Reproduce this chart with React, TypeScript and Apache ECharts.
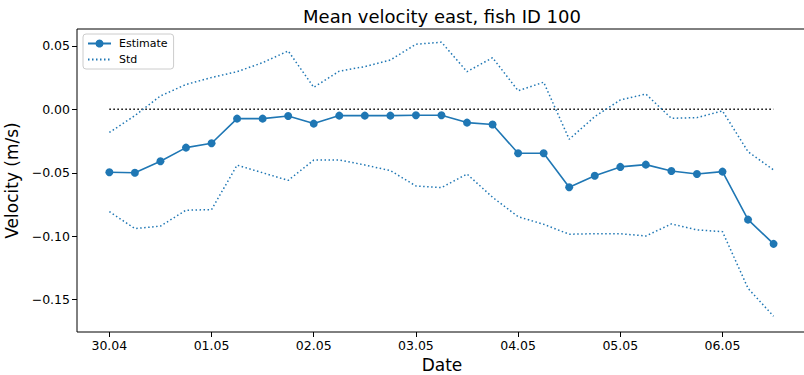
import React, { useEffect, useRef } from "react";
import * as echarts from "echarts";

// hours since 30.04 00:00, sampled every 6 h
const hours = [0, 6, 12, 18, 24, 30, 36, 42, 48, 54, 60, 66, 72, 78, 84, 90, 96, 102, 108, 114, 120, 126, 132, 138, 144, 150, 156];

const estimate = [-0.0496, -0.05, -0.041, -0.0302, -0.0268, -0.0074, -0.0074, -0.0053, -0.0113, -0.005, -0.005, -0.005, -0.0047, -0.0047, -0.0105, -0.012, -0.0347, -0.0347, -0.0614, -0.0523, -0.0454, -0.0436, -0.0486, -0.051, -0.0491, -0.0869, -0.106];

const stdUpper = [-0.0183, -0.005, 0.0105, 0.0195, 0.025, 0.0296, 0.0367, 0.0459, 0.0173, 0.03, 0.0336, 0.0388, 0.0512, 0.0528, 0.0296, 0.0406, 0.0146, 0.0213, -0.0236, -0.0058, 0.0073, 0.012, -0.0071, -0.0066, -0.0013, -0.0334, -0.0478];

const stdLower = [-0.0806, -0.094, -0.092, -0.0795, -0.079, -0.044, -0.05, -0.056, -0.04, -0.04, -0.0439, -0.0483, -0.0604, -0.0617, -0.051, -0.0693, -0.0846, -0.0906, -0.0984, -0.098, -0.098, -0.0998, -0.0903, -0.095, -0.0964, -0.141, -0.163];

const zeroLine = [[0, 0], [156, 0]];

const xTickValues = [0, 24, 48, 72, 96, 120, 144];
const xTickLabels = ["30.04", "01.05", "02.05", "03.05", "04.05", "05.05", "06.05"];
const yTickValues = [-0.15, -0.1, -0.05, 0, 0.05];

const FONT = "DejaVu Sans";
const BLUE = "#1f77b4";

export default function App() {
  const ref = useRef<HTMLDivElement>(null);
  useEffect(() => {
    if (!ref.current) return;
    const chart = echarts.init(ref.current, null, { renderer: "svg" });
    const pair = (arr: number[]) => arr.map((v, i) => [hours[i], v]);
    chart.setOption({
      animation: false,
      textStyle: { fontFamily: FONT },
      graphic: [
        {
          type: "text",
          x: 442,
          y: 16,
          style: {
            text: "Mean velocity east, fish ID 100",
            fontSize: 18,
            fontFamily: FONT,
            fill: "#000",
            align: "center",
            verticalAlign: "middle",
          },
        },
      ],
      grid: {
        left: 77,
        top: 29,
        right: -3,
        bottom: 43,
        show: true,
        borderColor: "#000",
        borderWidth: 1,
        containLabel: false,
        outerBoundsMode: "none",
      },
      legend: {
        left: 83,
        top: 34,
        orient: "vertical",
        itemWidth: 23,
        itemHeight: 10,
        itemGap: 5,
        padding: [4, 6, 4, 4],
        borderColor: "#cccccc",
        borderWidth: 1,
        borderRadius: 3,
        backgroundColor: "rgba(255,255,255,0.8)",
        textStyle: { fontSize: 11, fontFamily: FONT, color: "#000", padding: [0, 0, 0, 3] },
        data: ["Estimate", { name: "Std", itemStyle: { opacity: 0 } }],
      },
      xAxis: {
        type: "value",
        min: -7.6,
        max: 163.85,
        splitLine: { show: false },
        axisLine: { show: false, onZero: false },
        axisTick: {
          show: true,
          length: 5,
          lineStyle: { color: "#000" },
          customValues: xTickValues,
        },
        axisLabel: {
          fontSize: 12.5,
          fontFamily: FONT,
          color: "#000",
          margin: 7,
          customValues: xTickValues,
          formatter: (v: number) => {
            const idx = xTickValues.indexOf(Math.round(v));
            return idx >= 0 ? xTickLabels[idx] : "";
          },
        },
        name: "Date",
        nameLocation: "middle",
        nameGap: 22,
        nameTextStyle: { fontSize: 17, fontFamily: FONT, color: "#000" },
      },
      yAxis: {
        type: "value",
        min: -0.1754,
        max: 0.0632,
        splitLine: { show: false },
        axisLine: { show: false, onZero: false },
        axisTick: {
          show: true,
          length: 5,
          lineStyle: { color: "#000" },
          customValues: yTickValues,
        },
        axisLabel: {
          fontSize: 12.5,
          fontFamily: FONT,
          color: "#000",
          margin: 7,
          customValues: yTickValues,
          formatter: (v: number) => v.toFixed(2).replace("-", "\u2212"),
        },
        name: "Velocity (m/s)",
        nameLocation: "middle",
        nameGap: 45,
        nameTextStyle: { fontSize: 17, fontFamily: FONT, color: "#000" },
      },
      series: [
        {
          name: "zero",
          type: "line",
          data: zeroLine,
          symbol: "none",
          lineStyle: { color: "#000", width: 1.5, type: [1.5, 2.5] },
          silent: true,
          z: 1,
        },
        {
          name: "Std",
          type: "line",
          data: pair(stdUpper),
          symbol: "none",
          itemStyle: { color: BLUE },
          lineStyle: { color: BLUE, width: 1.5, type: [1.5, 2.5] },
          z: 2,
        },
        {
          name: "Std",
          type: "line",
          data: pair(stdLower),
          symbol: "none",
          itemStyle: { color: BLUE },
          lineStyle: { color: BLUE, width: 1.5, type: [1.5, 2.5] },
          z: 2,
        },
        {
          name: "Estimate",
          type: "line",
          data: pair(estimate),
          symbol: "circle",
          symbolSize: 8,
          showSymbol: true,
          itemStyle: { color: BLUE },
          lineStyle: { color: BLUE, width: 1.6 },
          z: 3,
        },
      ],
    });
    return () => chart.dispose();
  }, []);
  return (
    <div
      ref={ref}
      style={{ position: "fixed", left: 0, top: 0, width: 804, height: 375, background: "#fff" }}
    />
  );
}
